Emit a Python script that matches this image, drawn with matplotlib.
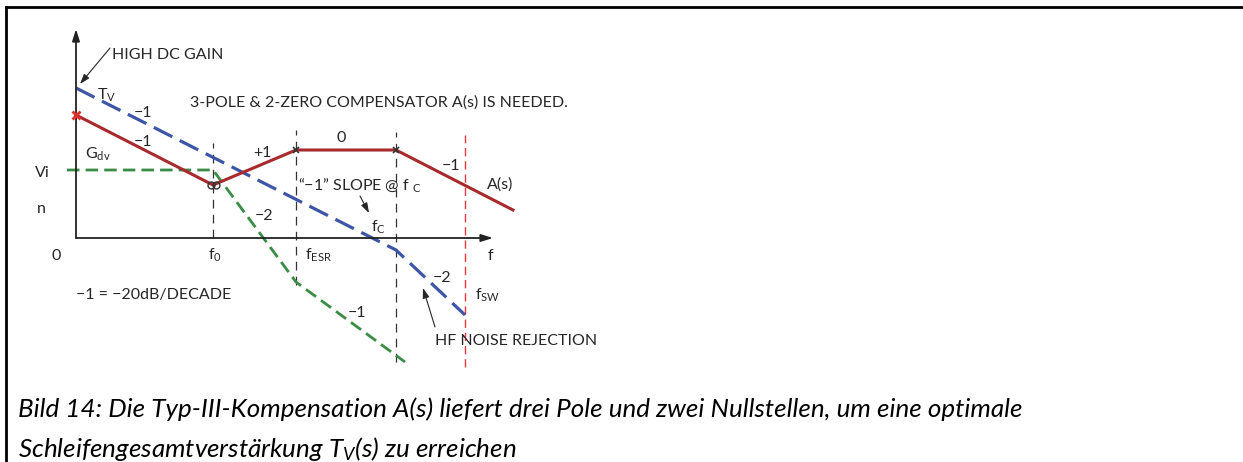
import matplotlib.pyplot as plt
from matplotlib.lines import Line2D

plt.rcParams['font.family'] = ['Lato', 'DejaVu Sans']
plt.rcParams['mathtext.fontset'] = 'custom'
plt.rcParams['mathtext.rm'] = 'Lato'
plt.rcParams['mathtext.it'] = 'Lato:italic'
plt.rcParams['mathtext.bf'] = 'Lato:bold'

MINUS = '\u2212'

# corner frequencies along the f axis (diagram units)
f0, f_esr, f_c, f_sw = 13.7, 22.0, 32.0, 38.9

# asymptotic gain curves
tv_x = [0, f_c, f_sw]
tv_y = [15.0, -1.2, -7.7]
as_x = [0, f0, f_esr, f_c, 43.7]
as_y = [12.3, 5.3, 8.8, 8.8, 2.8]
gdv_x = [-0.9, f0, f_esr, 32.9]
gdv_y = [6.8, 6.8, -4.4, -12.4]

# dashed frequency markers: x, bottom, top
mark_x = [f0, f_esr, f_c]
mark_lo = [0.0, -4.7, -12.4]
mark_hi = [9.5, 10.8, 10.6]
sw_lo, sw_hi = -12.9, 10.3

# poles / zeros of A(s)
pole_x = [f_esr, f_c]
pole_y = [8.8, 8.8]
zero_x = [f0 - 0.25, f0 + 0.25]
zero_y = [5.3, 5.3]

blue = '#3d55a6'
red = '#a82a2c'
green = '#3a8c46'
grey = '#333333'

fig = plt.figure(figsize=(12.43, 4.62), dpi=100)
ax = fig.add_axes([0, 0, 1, 1])
ax.set_xlim(-7.6, 116.7)
ax.set_ylim(-22.4, 23.8)
ax.axis('off')

# axes of the bode plot
ax.annotate('', xy=(0, 20.9), xytext=(0, 0),
            arrowprops=dict(arrowstyle='-|>,head_length=0.7,head_width=0.22',
                            lw=1.3, color='#222222', shrinkA=0, shrinkB=0))
ax.annotate('', xy=(41.7, 0), xytext=(0, 0),
            arrowprops=dict(arrowstyle='-|>,head_length=0.7,head_width=0.22',
                            lw=1.3, color='#222222', shrinkA=0, shrinkB=0))

for x, lo, hi in zip(mark_x, mark_lo, mark_hi):
    ax.plot([x, x], [lo, hi], color=grey, lw=0.9, ls=(0, (7, 5)))
ax.plot([f_sw, f_sw], [sw_lo, sw_hi], color='#e8363c', lw=1.0, ls=(0, (6, 3.5)))

ax.plot(gdv_x, gdv_y, color=green, lw=2.0, ls=(0, (4.5, 2.2)))
ax.plot(tv_x, tv_y, color=blue, lw=2.3, ls=(0, (6.5, 2.6)))
ax.plot(as_x, as_y, color=red, lw=2.2, solid_joinstyle='miter')

ax.plot([0], [as_y[0]], marker='x', ms=6, mew=2, color='#e0302a', zorder=5)
ax.plot(pole_x, pole_y, 'x', ms=5, mew=1.2, color='#333333', zorder=5)
ax.plot(zero_x, zero_y, 'o', ms=5, mfc='none', mew=1.0, color='#333333', zorder=5)

txt = dict(fontsize=11.5, color='#262626', va='baseline')
ax.text(3.6, 17.9, 'HIGH DC GAIN', ha='left', **txt)
ax.annotate('', xy=(0.4, 15.4), xytext=(3.4, 19.0),
            arrowprops=dict(arrowstyle='-|>,head_length=0.6,head_width=0.2',
                            lw=0.8, color='#262626', shrinkA=0, shrinkB=0))
ax.text(2.1, 13.8, r'T$_\mathrm{V}$', ha='left', **txt)
ax.text(6.7, 12.1, MINUS + '1', ha='center', **txt)
ax.text(6.7, 9.2, MINUS + '1', ha='center', **txt)
ax.text(0.9, 7.9, r'G$_\mathrm{dv}$', ha='left', **txt)
ax.text(11.4, 13.1, '3-POLE & 2-ZERO COMPENSATOR A(s) IS NEEDED.', ha='left', **txt)
ax.text(18.6, 8.1, '+1', ha='center', **txt)
ax.text(26.5, 9.6, '0', ha='center', **txt)
ax.text(37.5, 6.8, MINUS + '1', ha='center', **txt)
ax.text(41.1, 4.9, 'A(s)', ha='left', **txt)
ax.text(22.2, 4.8, '\u201c' + MINUS + '1\u201d SLOPE @ f $_\\mathrm{C}$', ha='left', **txt)
ax.annotate('', xy=(29.3, 2.5), xytext=(28.4, 4.2),
            arrowprops=dict(arrowstyle='-|>,head_length=0.6,head_width=0.2',
                            lw=0.8, color='#262626', shrinkA=0, shrinkB=0))
ax.text(29.5, 0.6, r'f$_\mathrm{C}$', ha='left', **txt)
ax.text(-4.1, 6.1, 'Vi', ha='left', **txt)
ax.text(-3.9, 2.5, 'n', ha='left', **txt)
ax.text(-2.4, -2.2, '0', ha='left', **txt)
ax.text(13.2, -2.2, r'f$_\mathrm{0}$', ha='left', **txt)
ax.text(22.9, -2.2, r'f$_\mathrm{ESR}$', ha='left', **txt)
ax.text(41.2, -2.2, 'f', ha='left', **txt)
ax.text(18.8, 1.8, MINUS + '2', ha='center', **txt)
ax.text(28.1, -7.9, MINUS + '1', ha='center', **txt)
ax.text(36.6, -4.4, MINUS + '2', ha='center', **txt)
ax.text(39.9, -6.2, r'f$_\mathrm{SW}$', ha='left', **txt)
ax.text(35.9, -10.7, 'HF NOISE REJECTION', ha='left', **txt)
ax.annotate('', xy=(34.7, -5.0), xytext=(35.9, -8.9),
            arrowprops=dict(arrowstyle='-|>,head_length=0.6,head_width=0.2',
                            lw=0.8, color='#262626', shrinkA=0, shrinkB=0))
ax.text(0.0, -6.1, MINUS + '1 = ' + MINUS + '20dB/DECADE', ha='left', **txt)

# caption
cap = dict(fontsize=18.7, fontstyle='italic', color='black', va='baseline', ha='left')
ax.text(-5.8, -17.9, 'Bild 14: Die Typ-III-Kompensation A(s) liefert drei Pole und '
        'zwei Nullstellen, um eine optimale', **cap)
ax.text(-5.8, -21.9, r'Schleifengesamtverstärkung T$_{V}$(s) zu erreichen', **cap)

# frame lines at the top and left edge
fig.add_artist(Line2D([6 / 1243, 1], [1 - 7 / 462, 1 - 7 / 462],
                      transform=fig.transFigure, color='black', lw=2))
fig.add_artist(Line2D([6 / 1243, 6 / 1243], [0, 1 - 7 / 462],
                      transform=fig.transFigure, color='black', lw=2))

fig.savefig('out.png', dpi=100)
